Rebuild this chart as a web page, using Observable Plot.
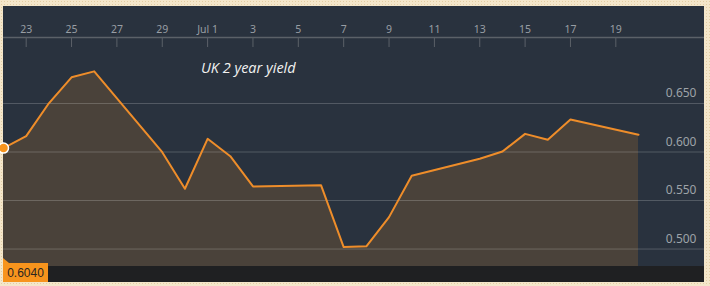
<!DOCTYPE html>
<html>
<head>
<meta charset="utf-8">
<script src="https://cdn.jsdelivr.net/npm/d3@7"></script>
<script src="https://cdn.jsdelivr.net/npm/@observablehq/plot@0.6"></script>
<style>
  html, body { margin: 0; padding: 0; }
  body {
    width: 710px; height: 286px; overflow: hidden; position: relative;
    background-color: #f4e6ca;
    background-image: radial-gradient(#e2cda4 0.8px, transparent 1px);
    background-size: 3px 3px;
    font-family: "Liberation Sans", Arial, sans-serif;
  }
  #panel { position: absolute; left: 3px; top: 6px; width: 701px; height: 276px; background: #29323e; }
  #band { position: absolute; left: 0; top: 260px; width: 701px; height: 16px; background: #1f2022; }
  #chart { position: absolute; left: 0; top: 0; }
  #chart svg { overflow: visible; }
  #title { position: absolute; left: 198px; top: 52px; color: #f2f2f2; font: italic 14.5px "Open Sans", sans-serif; white-space: nowrap; }
  #last {
    position: absolute; left: 0; top: 257px; width: 45px; height: 19px;
    background: #f7941d; color: #2a2520; font-size: 12px; line-height: 20px; text-align: center;
  }
  #last::before {
    content: ""; position: absolute; left: 0; top: -5px;
    border-left: 6px solid #f7941d; border-top: 5px solid transparent;
  }
</style>
</head>
<body>
<div id="panel">
  <div id="band"></div>
  <div id="chart"></div>
  <div id="title">UK 2 year yield</div>
  <div id="last"></div>
</div>
<script>
// Daily closing yields, UK 2-year gilt (trading days only)
const dates = [
  "2015-06-22", "2015-06-23", "2015-06-24", "2015-06-25", "2015-06-26",
  "2015-06-29", "2015-06-30", "2015-07-01", "2015-07-02", "2015-07-03",
  "2015-07-06", "2015-07-07", "2015-07-08", "2015-07-09", "2015-07-10",
  "2015-07-13", "2015-07-14", "2015-07-15", "2015-07-16", "2015-07-17",
  "2015-07-20"
];
const yields = [
  0.604, 0.6163, 0.6502, 0.677, 0.6831,
  0.5998, 0.5621, 0.6136, 0.5957, 0.5645,
  0.5658, 0.502, 0.5028, 0.5329, 0.5755,
  0.593, 0.6005, 0.6187, 0.6126, 0.6334,
  0.6177
];

// Axis ticks
const xTickDates = [
  "2015-06-23", "2015-06-25", "2015-06-27", "2015-06-29", "2015-07-01",
  "2015-07-03", "2015-07-05", "2015-07-07", "2015-07-09", "2015-07-11",
  "2015-07-13", "2015-07-15", "2015-07-17", "2015-07-19"
];
const xTickLabels = ["23", "25", "27", "29", "Jul 1", "3", "5", "7", "9", "11", "13", "15", "17", "19"];
const yTicks = [0.5, 0.55, 0.6, 0.65];
const yDomain = [0.482, 0.718];

const parse = s => new Date(s + "T00:00:00Z");
const data = dates.map((d, i) => ({date: parse(d), value: yields[i]}));
const xTicks = xTickDates.map((d, i) => ({date: parse(d), label: xTickLabels[i]}));

const extend = -66; // grid and axis line run under the right-hand label column

const chart = Plot.plot({
  width: 701,
  height: 276,
  marginLeft: 0,
  marginRight: 66,
  marginTop: 31,
  marginBottom: 16,
  x: {type: "utc", domain: [data[0].date, data[data.length - 1].date], axis: null},
  y: {domain: yDomain, axis: null},
  style: {background: "transparent", overflow: "visible"},
  marks: [
    Plot.areaY(data, {x: "date", y1: yDomain[0], y2: "value", fill: "#4a423a"}),
    Plot.ruleY(yTicks, {stroke: "#ffffff", strokeOpacity: 0.2, insetRight: extend}),
    Plot.ruleY([yDomain[1]], {stroke: "#5b6168", strokeWidth: 1.5, insetRight: extend}),
    Plot.tickX(xTicks, {x: "date", stroke: "#5b6168", insetBottom: 219}),
    Plot.text(xTicks, {x: "date", text: "label", frameAnchor: "top", dy: -12, fill: "#989ea4", fontSize: 10.5}),
    Plot.text(yTicks, {y: d => d, text: d => d3.format(".3f")(d), frameAnchor: "right", textAnchor: "end", dx: 58, dy: -10, fill: "#9ea3a8", fontSize: 12}),
    Plot.line(data, {x: "date", y: "value", stroke: "#ee8d2a", strokeWidth: 2}),
    Plot.dot(data.slice(0, 1), {x: "date", y: "value", r: 5, fill: "#f7941d", stroke: "#ffffff", strokeWidth: 1.5})
  ]
});
document.getElementById("chart").appendChild(chart);
document.getElementById("last").textContent = d3.format(".4f")(data[0].value);
</script>
</body>
</html>
